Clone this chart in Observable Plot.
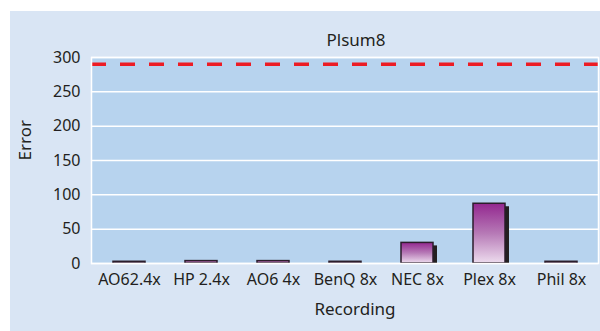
<!DOCTYPE html>
<html>
<head>
<meta charset="utf-8">
<script src="https://cdn.jsdelivr.net/npm/d3@7"></script>
<script src="https://cdn.jsdelivr.net/npm/@observablehq/plot@0.6"></script>
<style>
  html, body { margin: 0; padding: 0; background: #ffffff; }
  #wrap { position: relative; width: 600px; height: 331px; overflow: hidden; }
  #panel { position: absolute; left: 10px; top: 11px; width: 590px; height: 320px; background: #d9e5f4; }
  #panel svg { display: block; }
</style>
</head>
<body>
<div id="wrap"><div id="panel"></div></div>
<script>
const categories = ["AO62.4x", "HP 2.4x", "AO6 4x", "BenQ 8x", "NEC 8x", "Plex 8x", "Phil 8x"];
const errors = [2.5, 3.5, 3.5, 2.5, 30, 87, 2.5];
const threshold = [290];
const yTicks = [0, 50, 100, 150, 200, 250, 300];
const title = "Plsum8";
const xLabel = "Recording";
const yLabel = "Error";

const data = categories.map((c, i) => ({category: c, value: errors[i]}));
const ink = "#231f20";
const font = "'Noto Sans', 'Open Sans', sans-serif";

const chart = Plot.plot({
  width: 590,
  height: 320,
  marginLeft: 81,
  marginRight: 2,
  marginTop: 46,
  marginBottom: 68,
  style: {background: "transparent", fontFamily: font, color: ink, fontSize: "16px"},
  x: {domain: categories, paddingInner: 0.56, paddingOuter: 0.28, label: null},
  y: {domain: [0, 300], label: null},
  marks: [
    Plot.frame({fill: "#b7d3ee", stroke: null}),
    Plot.gridY(yTicks, {stroke: "#ffffff", strokeOpacity: 1, strokeWidth: 1.5}),
    Plot.barY(data, {x: "category", y: "value", fill: "#231f20", dx: 4, insetTop: 3}),
    Plot.barY(data, {x: "category", y: "value", fill: "url(#barGrad)", stroke: "#2b1d2b", strokeWidth: 1.5}),
    Plot.ruleY(threshold, {stroke: "#ed1c24", strokeWidth: 3.5, strokeDasharray: "15,14"}),
    Plot.frame({stroke: "#ffffff", strokeWidth: 1.5}),
    Plot.axisY(yTicks, {tickSize: 0, tickPadding: 11, fontSize: 16, label: null}),
    Plot.axisX({tickSize: 0, tickPadding: 10, fontSize: 16, label: null}),
    Plot.text([title], {frameAnchor: "top", dx: 11, dy: -24, fontSize: 17, fill: ink}),
    Plot.text([xLabel], {frameAnchor: "bottom", dx: 10, dy: 51, fontSize: 17, fill: ink}),
    Plot.text([yLabel], {frameAnchor: "left", dx: -66, rotate: -90, fontSize: 17, fill: ink})
  ]
});

const svg = d3.select(chart);
const defs = svg.insert("defs", ":first-child");
const grad = defs.append("linearGradient")
  .attr("id", "barGrad").attr("x1", 0).attr("y1", 0).attr("x2", 0).attr("y2", 1);
grad.append("stop").attr("offset", "0%").attr("stop-color", "#93278f");
grad.append("stop").attr("offset", "50%").attr("stop-color", "#b679b6");
grad.append("stop").attr("offset", "100%").attr("stop-color", "#eddcee");

document.getElementById("panel").appendChild(chart);
</script>
</body>
</html>
